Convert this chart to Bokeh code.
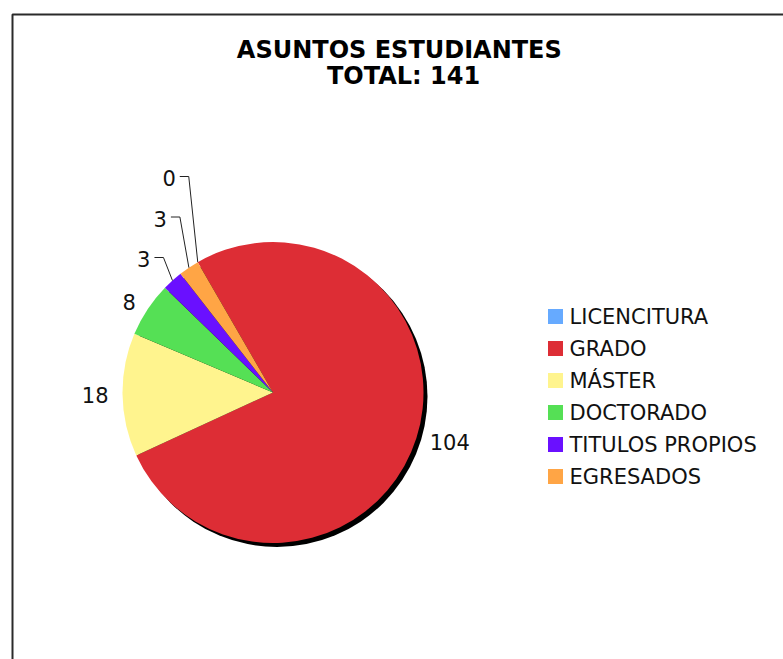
import math
from bokeh.plotting import figure
from bokeh.models import Range1d
from bokeh.core.properties import value
from bokeh.embed import file_html
from bokeh.resources import INLINE

# ---- data ----
categories = ["LICENCITURA", "GRADO", "MÁSTER", "DOCTORADO", "TITULOS PROPIOS", "EGRESADOS"]
counts = [0, 104, 18, 8, 3, 3]
colors = ["#66AAFF", "#DD2D35", "#FFF48E", "#55E055", "#6A10FF", "#FFA545"]
title_lines = ["ASUNTOS  ESTUDIANTES", "TOTAL: 141"]

# ---- layout ----
W, H = 783, 659
FONT = "DejaVu Sans"


def P(px, py):
    """page pixel -> figure data coords (figure rendered at page origin)"""
    return px, H - py


p = figure(width=W, height=H, x_range=Range1d(0, W), y_range=Range1d(0, H),
           output_backend="svg", toolbar_location=None, min_border=0,
           x_axis_type=None, y_axis_type=None)
p.grid.visible = False
p.outline_line_color = None
p.background_fill_color = "white"
p.border_fill_color = "white"

# chart-area border (open to right/bottom like the crop)
bx, by = P(12, 14)
p.line(x=[bx, bx, W + 40], y=[-40, by, by], line_color="#2a2a2a", line_width=2)

# title
tx, ty1 = P(403, 49.5)
_, ty2 = P(398, 75)
p.text(x=[tx, tx], y=[ty1, ty2], text=title_lines, text_font=value(FONT),
       text_font_style="bold", text_font_size="24px", text_align="center",
       text_baseline="middle", text_color="#000000")

# pie
cx, cy = P(272.5, 392)
R = 150.5
p.circle(x=[cx + 4], y=[cy - 4], radius=R, fill_color="#000000", line_color=None)

total = sum(counts)
theta0 = 330.0  # degrees clockwise from 12 o'clock
starts, ends = [], []
acc = theta0
for v in counts:
    span = 360.0 * v / total
    starts.append(acc)
    ends.append(acc + span)
    acc += span

for v, s, e, c in zip(counts, starts, ends, colors):
    if v <= 0:
        continue
    p.wedge(x=cx, y=cy, radius=R, start_angle=math.radians(90 - s),
            end_angle=math.radians(90 - e), direction="clock",
            fill_color=c, line_color=None)


def pt(theta_deg, r):
    t = math.radians(theta_deg)
    return cx + r * math.sin(t), cy + r * math.cos(t)


# data labels
big_x, big_y, big_t, big_a = [], [], [], []
lead_xs, lead_ys = [], []
small_x, small_y, small_t = [], [], []
small_order = []
for i, (v, s, e) in enumerate(zip(counts, starts, ends)):
    mid = (s + e) / 2.0
    if v / total >= 0.05:
        x, y = pt(mid, R + 14)
        big_x.append(x)
        big_y.append(y)
        big_t.append(str(v))
        big_a.append("left" if math.sin(math.radians(mid)) > 0 else "right")
    else:
        small_order.append((i, mid))

# small slices: stacked labels with leader lines, in clockwise order
small_order.sort(key=lambda t: (t[1] - theta0) % 360 if counts[t[0]] > 0 else 360)
elbow_y = None
for k, (i, mid) in enumerate(small_order):
    ax, ay = pt(mid, R)
    ex = ax - 9
    elbow_y = ay + 23 if elbow_y is None else elbow_y + 40.5
    lead_xs.append([ax, ex, ex - 9])
    lead_ys.append([ay, elbow_y, elbow_y])
    small_x.append(ex - 13)
    small_y.append(elbow_y - 1.5)
    small_t.append(str(counts[i]))

p.multi_line(xs=lead_xs, ys=lead_ys, line_color="#222222", line_width=1)

for x, y, t, a in zip(big_x, big_y, big_t, big_a):
    p.text(x=[x], y=[y], text=[t], text_font=value(FONT), text_font_size="21px",
           text_align=a, text_baseline="middle", text_color="#111111")
p.text(x=small_x, y=small_y, text=small_t, text_font=value(FONT),
       text_font_size="21px", text_align="right", text_baseline="middle",
       text_color="#111111")

# legend
lx, ly0 = P(555, 316)
step = 32
leg_y = [ly0 - step * k for k in range(len(categories))]
p.rect(x=[lx] * len(categories), y=leg_y, width=15, height=15,
       fill_color=colors, line_color=None)
p.text(x=[lx + 14] * len(categories), y=[y - 0.5 for y in leg_y], text=categories,
       text_font=value(FONT), text_font_size="21px", text_align="left",
       text_baseline="middle", text_color="#111111")

open("out.html", "w").write(file_html(p, INLINE))
